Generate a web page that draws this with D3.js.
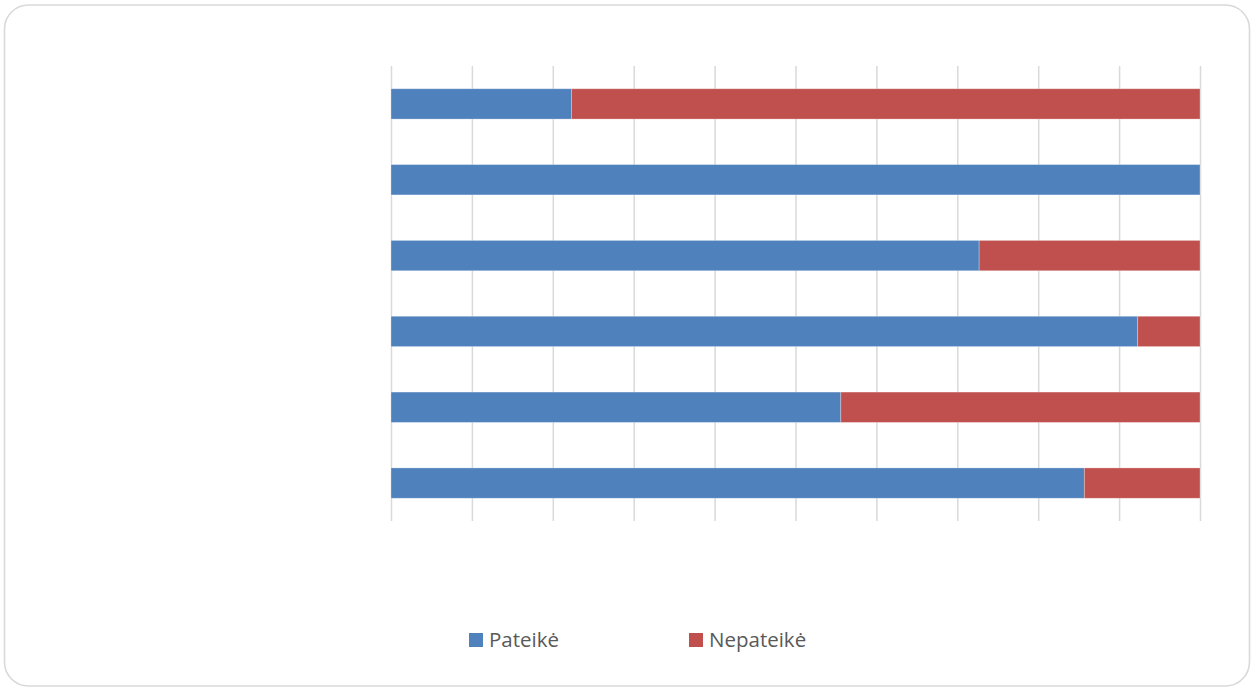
<!DOCTYPE html>
<html>
<head>
<meta charset="utf-8">
<script src="https://cdn.jsdelivr.net/npm/d3@7"></script>
<style>
  html, body { margin: 0; padding: 0; background: #fff; }
  svg { display: block; }
</style>
</head>
<body>
<svg id="chart" width="1255" height="689"></svg>
<script>
// Rows from top to bottom; labels on the category axis are hidden
const categories = ["1", "2", "3", "4", "5", "6"];
const seriesNames = ["Pateikė", "Nepateikė"];
const pateike = [22.3, 100, 72.7, 92.3, 55.6, 85.7];
const nepateike = [77.7, 0, 27.3, 7.7, 44.4, 14.3];
const xTicks = [0, 10, 20, 30, 40, 50, 60, 70, 80, 90, 100];
const colors = ["#4F81BD", "#C0504D"];

const svg = d3.select("#chart");

// Outer frame with rounded corners
svg.append("rect")
  .attr("x", 4.5).attr("y", 5).attr("width", 1245).attr("height", 681)
  .attr("rx", 24).attr("ry", 24)
  .attr("fill", "#fff").attr("stroke", "#d9d9d9").attr("stroke-width", 1.6);

const plot = { left: 391, right: 1200, top: 66, bottom: 521 };

const x = d3.scaleLinear().domain([0, 100]).range([plot.left, plot.right]);
const y = d3.scaleBand().domain(categories).range([plot.top, plot.bottom]).paddingInner(0.6).paddingOuter(0.3);

// Vertical gridlines
const xAxis = d3.axisBottom(x).tickValues(xTicks).tickSize(-(plot.bottom - plot.top)).tickFormat("");
const gx = svg.append("g").attr("transform", `translate(0,${plot.bottom})`).call(xAxis);
gx.select(".domain").remove();
gx.selectAll(".tick line").attr("stroke", "#d9d9d9").attr("stroke-width", 1.5);

// Stacked bars
const rows = categories.map((c, i) => ({ cat: c, "Pateikė": pateike[i], "Nepateikė": nepateike[i] }));
const stacked = d3.stack().keys(seriesNames)(rows);

svg.append("g").selectAll("g")
  .data(stacked)
  .join("g")
    .attr("fill", (d, i) => colors[i])
  .selectAll("rect")
  .data(d => d.filter(s => s[1] - s[0] > 0))
  .join("rect")
    .attr("x", d => x(d[0]))
    .attr("y", d => y(d.data.cat))
    .attr("width", d => x(d[1]) - x(d[0]))
    .attr("height", y.bandwidth())
    .attr("stroke", "rgba(255,255,255,0.35)")
    .attr("stroke-width", 0.8);

// Legend
const legendItems = [
  { name: seriesNames[0], color: colors[0], sx: 469, tx: 489 },
  { name: seriesNames[1], color: colors[1], sx: 689, tx: 709 }
];
const lg = svg.append("g");
legendItems.forEach(it => {
  lg.append("rect").attr("x", it.sx).attr("y", 633).attr("width", 14).attr("height", 14).attr("fill", it.color);
  lg.append("text").attr("x", it.tx).attr("y", 647)
    .attr("font-family", "'Open Sans', sans-serif").attr("font-size", 20.5)
    .attr("fill", "#595959").text(it.name);
});
</script>
</body>
</html>
